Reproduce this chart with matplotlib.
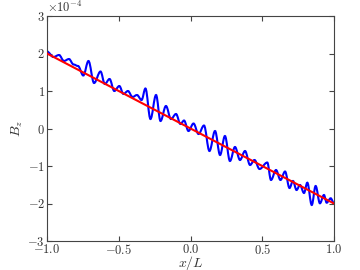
import matplotlib
matplotlib.use("Agg")
import matplotlib.pyplot as plt
from matplotlib.path import Path
from matplotlib.patches import PathPatch
import numpy as np

plt.rcParams['font.family'] = 'serif'
plt.rcParams['font.serif'] = ['cmr10']
plt.rcParams['mathtext.fontset'] = 'cm'
plt.rcParams['axes.formatter.use_mathtext'] = True

SCALE = 1e-4

# Measured field B_z: successive crests and troughs of the wavy curve (units of 1e-4)
x_meas = [-1.000, -0.955, -0.916, -0.882, -0.847, -0.815, -0.784, -0.747, -0.711, -0.672,
          -0.627, -0.597, -0.564, -0.531, -0.496, -0.467, -0.436, -0.404, -0.373, -0.341,
          -0.314, -0.279, -0.240, -0.209, -0.171, -0.136, -0.101, -0.070, -0.045, -0.014,
          0.021, 0.056, 0.094, 0.132, 0.171, 0.206, 0.240, 0.275, 0.310, 0.345,
          0.380, 0.415, 0.446, 0.481, 0.535, 0.561, 0.596, 0.627, 0.659, 0.690,
          0.714, 0.739, 0.763, 0.791, 0.814, 0.845, 0.872, 0.902, 0.930, 0.949,
          0.977, 1.000]
b_meas = [2.053, 1.907, 1.960, 1.800, 1.853, 1.707, 1.667, 1.413, 1.800, 1.213,
          1.520, 1.187, 1.320, 1.000, 1.133, 0.920, 1.000, 0.840, 0.893, 0.760,
          1.067, 0.253, 0.893, 0.200, 0.600, 0.253, 0.387, 0.120, 0.213, -0.067,
          0.133, -0.147, 0.080, -0.600, -0.067, -0.707, -0.200, -0.867, -0.493, -0.840,
          -0.600, -0.973, -0.840, -1.080, -0.907, -1.373, -1.107, -1.373, -1.147, -1.587,
          -1.400, -1.640, -1.507, -1.720, -1.445, -2.040, -1.533, -1.995, -1.773, -1.979,
          -1.861, -1.995]

# Linear background field (units of 1e-4)
x_lin = [-1.0, 1.0]
b_lin = [2.0, -2.0]

fig = plt.figure(figsize=(3.6, 2.7), dpi=100)
ax = fig.add_axes([47/360, 1-241/270, 287/360, 225/270])

# smooth wave through the crests/troughs (horizontal tangent at each extremum)
xs = np.asarray(x_meas)
ys = np.asarray(b_meas) * SCALE
verts = [(xs[0], ys[0])]
codes = [Path.MOVETO]
for i in range(len(xs) - 1):
    a = 0.3634 * (xs[i + 1] - xs[i])
    verts += [(xs[i] + a, ys[i]), (xs[i + 1] - a, ys[i + 1]), (xs[i + 1], ys[i + 1])]
    codes += [Path.CURVE4] * 3
ax.add_patch(PathPatch(Path(verts, codes), fill=False, edgecolor='b', lw=1.5,
                       transform=ax.transData, zorder=2))

ax.plot(x_lin, np.array(b_lin) * SCALE, color='r', lw=1.5, zorder=3)

ax.set_xlim(-1, 1)
ax.set_ylim(-3e-4, 3e-4)
ax.set_xticks([-1.0, -0.5, 0.0, 0.5, 1.0])
ax.set_yticks([-3e-4, -2e-4, -1e-4, 0, 1e-4, 2e-4, 3e-4])
ax.ticklabel_format(axis='y', style='sci', scilimits=(0, 0))

for s in ax.spines.values():
    s.set_color('#444444')
ax.tick_params(direction='in', top=True, right=True, labelsize=9, colors='#444444',
               labelcolor='#333333', length=3.5, width=0.8, pad=1.5)
ax.yaxis.get_offset_text().set_fontsize(9)
ax.yaxis.get_offset_text().set_color('#333333')

ax.set_xlabel('$x/L$', fontsize=10, labelpad=-2, color='#333333')
ax.set_ylabel('$B_z$', fontsize=10, labelpad=2, color='#333333')

fig.savefig('out.png', dpi=100)
